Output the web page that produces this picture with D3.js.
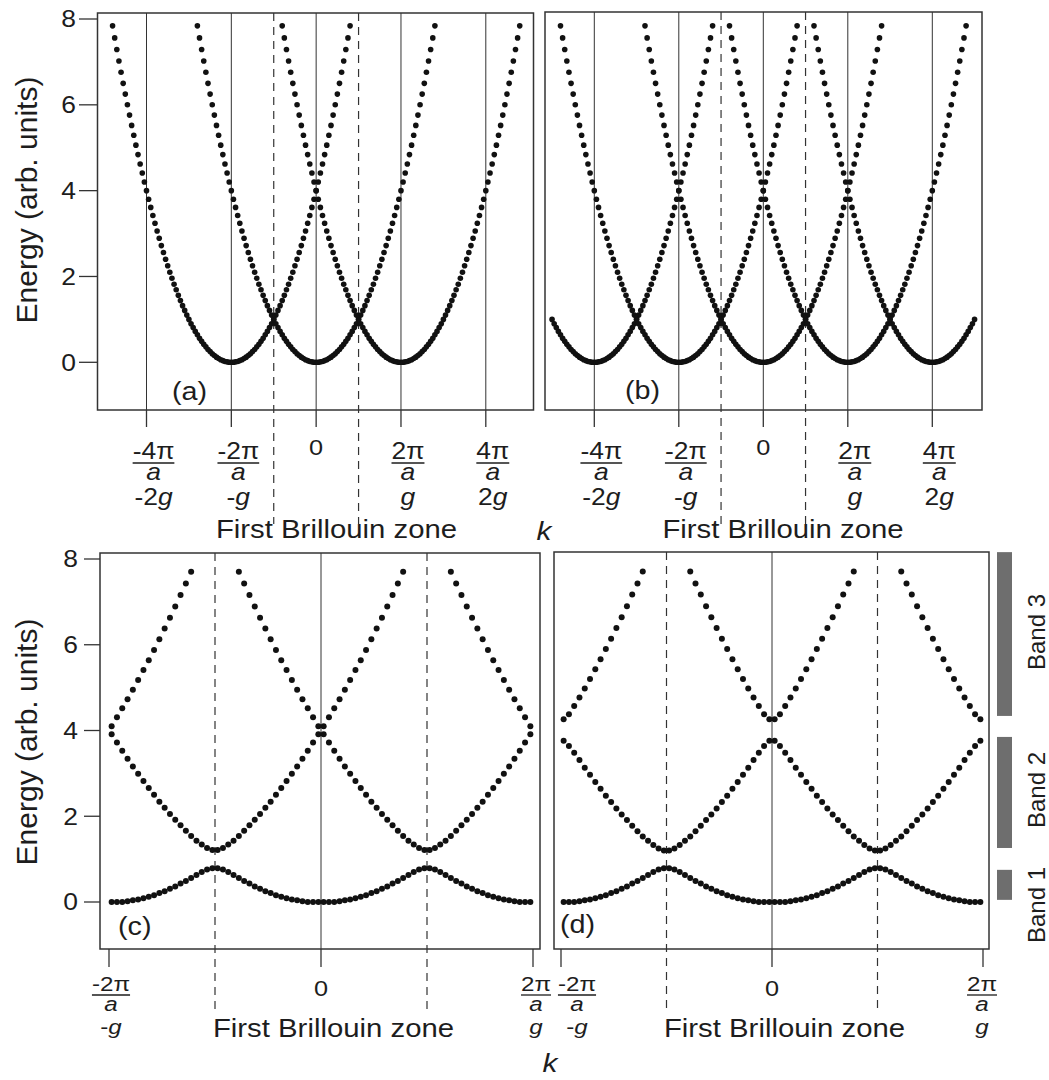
<!DOCTYPE html>
<html>
<head>
<meta charset="utf-8">
<script src="https://cdn.jsdelivr.net/npm/d3@7"></script>
<style>
  body { margin: 0; background: #fff; }
  svg { display: block; font-family: "Liberation Sans", Arial, Helvetica, sans-serif; }
</style>
</head>
<body>
<svg id="chart" width="1049" height="1080"></svg>
<script>
// ---- data (k in units of g, energy in arb. units) ----
const energyTicks = [0, 2, 4, 6, 8];

// free-electron parabola: k offset from its centre and the energy of each dot
const freeK = [0, 0.025, 0.05, 0.075, 0.1, 0.125, 0.15, 0.175, 0.2, 0.225,
  0.25, 0.275, 0.3, 0.325, 0.35, 0.375, 0.4, 0.425, 0.45, 0.475,
  0.5, 0.525, 0.55, 0.575, 0.6, 0.625, 0.65, 0.675, 0.7, 0.725,
  0.75, 0.775, 0.8, 0.825, 0.85, 0.875, 0.9, 0.925, 0.95, 0.975,
  1, 1.025, 1.05, 1.075, 1.1, 1.125, 1.15, 1.175, 1.2, 1.225,
  1.25, 1.275, 1.3, 1.325, 1.35, 1.375, 1.4];
const freeE = [0, 0, 0.01, 0.02, 0.04, 0.06, 0.09, 0.12, 0.16, 0.2,
  0.25, 0.3, 0.36, 0.42, 0.49, 0.56, 0.64, 0.72, 0.81, 0.9,
  1, 1.1, 1.21, 1.32, 1.44, 1.56, 1.69, 1.82, 1.96, 2.1,
  2.25, 2.4, 2.56, 2.72, 2.89, 3.06, 3.24, 3.42, 3.61, 3.8,
  4, 4.2, 4.41, 4.62, 4.84, 5.06, 5.29, 5.52, 5.76, 6,
  6.25, 6.5, 6.76, 7.02, 7.29, 7.56, 7.84];

// parabola centres
const centresA = [-1, 0, 1];
const centresB = [-2, -1, 0, 1, 2];
const kMaxB = 2.5;

// bands on half a zone (0 .. g/2), repeated by symmetry about 0 and g/2
const halfZoneK = [0.0125, 0.0375, 0.0625, 0.0875, 0.1125, 0.1375, 0.1625, 0.1875, 0.2125, 0.2375,
  0.2625, 0.2875, 0.3125, 0.3375, 0.3625, 0.3875, 0.4125, 0.4375, 0.4625, 0.4875];
const band1C = [0, 0, 0, 0.02, 0.04, 0.06, 0.09, 0.12, 0.16, 0.21, 0.25, 0.31, 0.36, 0.43, 0.49, 0.56, 0.63, 0.7, 0.76, 0.79];
const band2C = [3.91, 3.72, 3.53, 3.34, 3.16, 2.99, 2.82, 2.66, 2.5, 2.34, 2.2, 2.05, 1.92, 1.79, 1.66, 1.54, 1.43, 1.34, 1.26, 1.21];
const band3C = [4.1, 4.31, 4.52, 4.73, 4.95, 5.18, 5.41, 5.64, 5.88, 6.13, 6.38, 6.63, 6.89, 7.16, 7.43, 7.7];
const band1D = [0, 0, 0, 0.02, 0.04, 0.06, 0.09, 0.12, 0.16, 0.21, 0.25, 0.31, 0.36, 0.43, 0.49, 0.56, 0.63, 0.7, 0.76, 0.79];
const band2D = [3.76, 3.64, 3.48, 3.31, 3.13, 2.97, 2.8, 2.64, 2.48, 2.33, 2.18, 2.04, 1.91, 1.78, 1.65, 1.53, 1.43, 1.33, 1.25, 1.2];
const band3D = [4.26, 4.38, 4.57, 4.77, 4.98, 5.2, 5.43, 5.66, 5.9, 6.14, 6.39, 6.64, 6.9, 7.17, 7.43, 7.71];

// allowed bands (bars right of panel d)
const bandNames = ["Band 1", "Band 2", "Band 3"];
const bandLow = [0.05, 1.26, 4.34];
const bandHigh = [0.75, 3.85, 8.16];

// k axis labels
const topTickK = [-2, -1, 0, 1, 2];
const topTickNum = ["-4π", "-2π", "0", "2π", "4π"];
const topTickG = ["-2g", "-g", "", "g", "2g"];
const botTickK = [-1, 0, 1];
const botTickNum = ["-2π", "0", "2π"];
const botTickG = ["-g", "", "g"];
const zoneEdges = [-0.5, 0.5];

// ---- drawing ----
const svg = d3.select("#chart");
const SX = 1.15;        // the scanned lettering is a little wider than Arial
const INK = "#1d1d1d";

const yTop = d3.scaleLinear().domain([0, 8]).range([362.3, 19]);
const yBot = d3.scaleLinear().domain([0, 8]).range([902, 559]);

const topRows = { size: 23, zero: 455, num: 459, bar: 463, den: 480, g: 505 };
const botRows = { size: 21, zero: 996, num: 991, bar: 995, den: 1011, g: 1034 };

const panels = [
  { name: "(a)", nameX: 172, nameY: 400, x: d3.scaleLinear().domain([-2, 2]).range([146.5, 485.8]), y: yTop,
    left: 97.5, right: 533.5, top: 13, bottom: 410, tickEnd: 427, dashEnd: 524, r: 2.8,
    grid: topTickK, ticks: topTickK, nums: topTickNum, gs: topTickG, offs: [7, 7, 0, 7, 7], rows: topRows,
    zoneX: 336.5, zoneY: 538, yAxis: 79, yLabelX: 76, titleY: 200,
    dots: parabolaDots(centresA, 3) },
  { name: "(b)", nameX: 625, nameY: 399, x: d3.scaleLinear().domain([-2, 2]).range([594.3, 932.3]), y: yTop,
    left: 545, right: 982, top: 12, bottom: 410, tickEnd: 427, dashEnd: 524, r: 2.8,
    grid: topTickK, ticks: topTickK, nums: topTickNum, gs: topTickG, offs: [7, 7, 0, 7, 7], rows: topRows,
    zoneX: 783, zoneY: 538,
    dots: parabolaDots(centresB, kMaxB) },
  { name: "(c)", nameX: 118, nameY: 935, x: d3.scaleLinear().domain([-1, 1]).range([109, 533]), y: yBot,
    left: 100, right: 540, top: 553, bottom: 949, tickEnd: 967, dashEnd: 1010, r: 3,
    grid: [0], ticks: botTickK, nums: botTickNum, gs: botTickG, offs: [2, 0, 3], rows: botRows,
    zoneX: 333.5, zoneY: 1037, yAxis: 84, yLabelX: 78, titleY: 742,
    dots: bandDots([band1C, band2C, band3C]) },
  { name: "(d)", nameX: 560, nameY: 933, x: d3.scaleLinear().domain([-1, 1]).range([561, 983]), y: yBot,
    left: 554, right: 989, top: 552, bottom: 949, tickEnd: 967, dashEnd: 1010, r: 3,
    grid: [0], ticks: botTickK, nums: botTickNum, gs: botTickG, offs: [16, 0, -1], rows: botRows,
    zoneX: 784.5, zoneY: 1037,
    dots: bandDots([band1D, band2D, band3D]) }
];

function parabolaDots(centres, kMax) {
  const out = [];
  centres.forEach(function(c) {
    freeK.forEach(function(dk, i) {
      const ks = dk === 0 ? [c] : [c - dk, c + dk];
      ks.forEach(function(k) {
        if (Math.abs(k) <= kMax + 1e-9) out.push([k, freeE[i]]);
      });
    });
  });
  return out;
}

function bandDots(bands) {
  const out = [];
  bands.forEach(function(b) {
    b.forEach(function(e, i) {
      const k = halfZoneK[i];
      [k, -k, 1 - k, k - 1].forEach(function(kk) { out.push([kk, e]); });
    });
  });
  return out;
}

function wideText(x, y, size, anchor) {
  return svg.append("g")
    .attr("transform", "translate(" + x + "," + y + ") scale(" + SX + ",1)")
    .append("text")
    .attr("font-size", size)
    .attr("text-anchor", anchor || "middle")
    .attr("fill", INK);
}

function gText(t, s) {
  const i = s.indexOf("g");
  if (i > 0) t.append("tspan").text(s.slice(0, i));
  t.append("tspan").attr("font-style", "italic").text("g");
}

panels.forEach(function(p) {
  const g = svg.append("g");

  // vertical solid lines at reciprocal lattice points
  g.selectAll(".grid").data(p.grid).enter().append("line")
    .attr("x1", d => p.x(d)).attr("x2", d => p.x(d))
    .attr("y1", p.top).attr("y2", p.bottom)
    .attr("stroke", "#333").attr("stroke-width", 1);

  // ticks under the frame
  g.selectAll(".tick").data(p.ticks).enter().append("line")
    .attr("x1", d => p.x(d)).attr("x2", d => p.x(d))
    .attr("y1", p.bottom).attr("y2", p.tickEnd)
    .attr("stroke", "#333").attr("stroke-width", 1.3);

  // zone boundaries
  g.selectAll(".zone").data(zoneEdges).enter().append("line")
    .attr("x1", d => p.x(d)).attr("x2", d => p.x(d))
    .attr("y1", p.top).attr("y2", p.dashEnd)
    .attr("stroke", "#333").attr("stroke-width", 1.2)
    .attr("stroke-dasharray", "8,6");

  // dots
  g.selectAll(".dot").data(p.dots).enter().append("circle")
    .attr("cx", d => p.x(d[0])).attr("cy", d => p.y(d[1]))
    .attr("r", p.r).attr("fill", "#111");

  // frame
  g.append("rect")
    .attr("x", p.left).attr("y", p.top)
    .attr("width", p.right - p.left).attr("height", p.bottom - p.top)
    .attr("fill", "none").attr("stroke", "#333").attr("stroke-width", 1.5);

  // energy axis
  if (p.yAxis) {
    g.selectAll(".ytick").data(energyTicks).enter().append("line")
      .attr("x1", p.yAxis).attr("x2", p.left)
      .attr("y1", d => p.y(d)).attr("y2", d => p.y(d))
      .attr("stroke", "#333").attr("stroke-width", 1.3);
    energyTicks.forEach(function(d) {
      wideText(p.yLabelX, p.y(d) + 8.3, 23, "end").text(d);
    });
    svg.append("text")
      .attr("transform", "translate(37," + p.titleY + ") rotate(-90)")
      .attr("text-anchor", "middle")
      .attr("font-size", 30)
      .attr("fill", INK)
      .text("Energy (arb. units)");
  }

  // k labels
  p.ticks.forEach(function(k, i) {
    const cx = p.x(k) + p.offs[i];
    const r = p.rows;
    if (p.nums[i] === "0") {
      wideText(cx, r.zero, 22).text("0");
      return;
    }
    const t = wideText(cx, r.num, r.size).text(p.nums[i]);
    const w = t.node().getComputedTextLength() * SX;
    svg.append("line")
      .attr("x1", cx - w / 2).attr("x2", cx + w / 2)
      .attr("y1", r.bar).attr("y2", r.bar)
      .attr("stroke", INK).attr("stroke-width", 1.3);
    wideText(cx, r.den, r.size).attr("font-style", "italic").text("a");
    gText(wideText(cx, r.g, r.size), p.gs[i]);
  });

  wideText(p.zoneX, p.zoneY, 25.5).text("First Brillouin zone");
  wideText(p.nameX, p.nameY, 25, "start").text(p.name);
});

// k symbols
wideText(544, 540, 26).attr("font-style", "italic").text("k");
wideText(550, 1072, 26).attr("font-style", "italic").text("k");

// band bars beside panel (d)
bandNames.forEach(function(name, i) {
  svg.append("rect")
    .attr("x", 997).attr("width", 15)
    .attr("y", yBot(bandHigh[i]))
    .attr("height", yBot(bandLow[i]) - yBot(bandHigh[i]))
    .attr("fill", "#6e6e6e");
});
const bandLabelY = [905, 790, 632];
bandNames.forEach(function(name, i) {
  svg.append("text")
    .attr("transform", "translate(1045," + bandLabelY[i] + ") rotate(-90)")
    .attr("text-anchor", "middle")
    .attr("font-size", 24)
    .attr("fill", INK)
    .text(name);
});
</script>
</body>
</html>
